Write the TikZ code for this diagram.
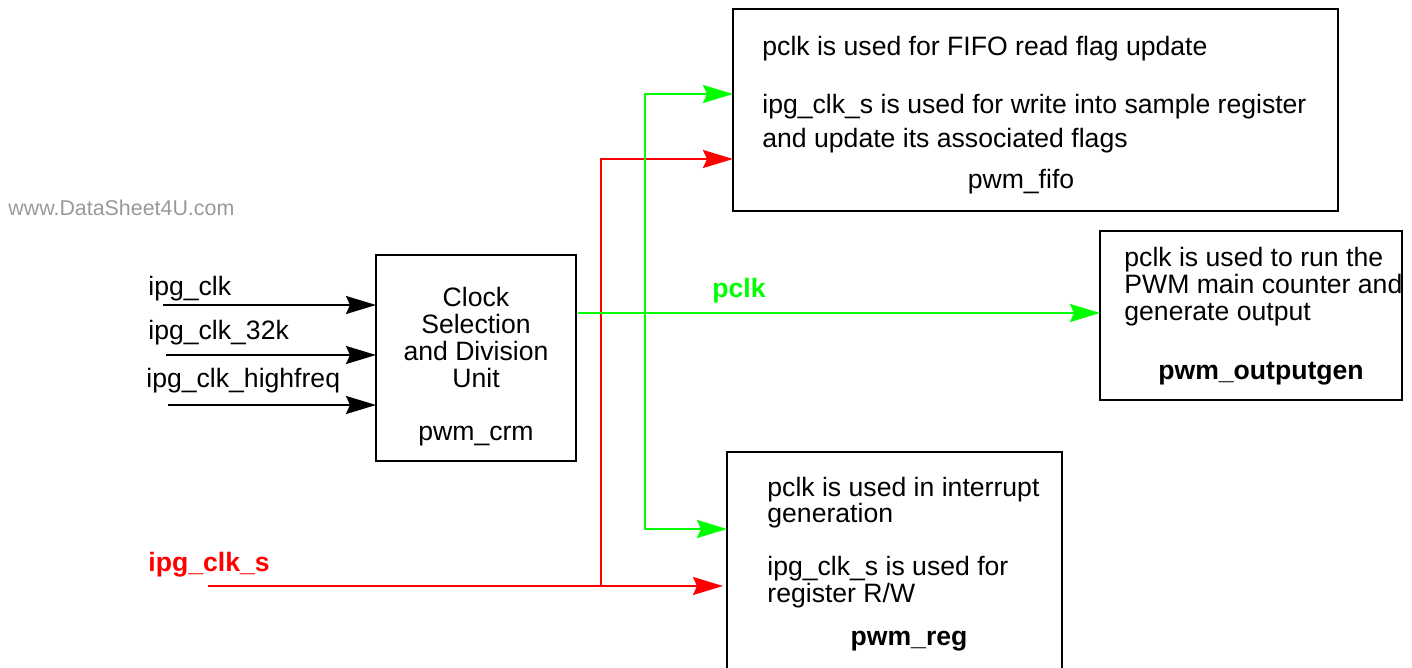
\documentclass[tikz,border=0pt]{standalone}
\usepackage{fontspec}
\setmainfont{Liberation Sans}
\usetikzlibrary{arrows.meta}
\definecolor{ink}{HTML}{000000}
\definecolor{pclkGreen}{HTML}{00FF00}
\definecolor{slowRed}{HTML}{FF0000}
\definecolor{wmGray}{HTML}{999999}
\tikzset{
  base/.style={font=\fontsize{13.3}{13.5}\selectfont, text=ink, inner sep=0pt},
  body/.style={base, anchor=west, align=left},
  bold/.style={base, font=\fontsize{13.3}{13.5}\selectfont\bfseries},
  box/.style={draw=ink, line width=1pt, inner sep=0pt, outer sep=0pt},
  watermark/.style={base, anchor=west, font=\fontsize{10.7}{12}\selectfont, text=wmGray},
  arrow/.style={-{Stealth[length=15pt, width=9pt, inset=2pt]}, line width=1pt, draw=ink},
  pclkarrow/.style={arrow, draw=pclkGreen},
  slowarrow/.style={arrow, draw=slowRed},
}

\begin{document}
\begin{tikzpicture}[x=0.5pt,y=-0.5pt]
  \clip (0,0) rectangle (1412,668);
  \node[watermark] (wm) at (8,208) {www.DataSheet4U.com};

  % blocks
  \node[box, minimum width=100pt, minimum height=103pt] (crm) at (476,358) {};
  \node[box, minimum width=302.5pt, minimum height=101pt] (fifo) at (1035.5,110) {};
  \node[box, minimum width=151pt, minimum height=84.5pt] (outgen) at (1251,315.5) {};
  \node[box, minimum width=167.5pt, minimum height=130pt] (reg) at (894.5,582) {};

  % block texts
  \node[base, align=center] (crmtext) at (476,337.5) {Clock\\Selection\\and Division\\Unit};
  \node[base] (crmname) at (476,436) {pwm\_crm};

  \node[body] (fifoa) at (762,49) {pclk is used for FIFO read flag update};
  \node[body, font=\fontsize{13.3}{17}\selectfont] (fifob) at (762,124) {ipg\_clk\_s is used for write into sample register\\and update its associated flags};
  \node[base] (fifoname) at (1021,182) {pwm\_fifo};

  \node[body] (outtext) at (1124,287) {pclk is used to run the\\PWM main counter and\\generate output};
  \node[bold] (outname) at (1261,374) {pwm\_outputgen};

  \node[body, font=\fontsize{13.3}{12.8}\selectfont] (rega) at (767,502.5) {pclk is used in interrupt\\generation};
  \node[body] (regb) at (767,582.5) {ipg\_clk\_s is used for\\register R/W};
  \node[bold] (regname) at (909,641) {pwm\_reg};

  % clock inputs
  \node[body] (lclk) at (148,289) {ipg\_clk};
  \node[body] (lclk32) at (148,333) {ipg\_clk\_32k};
  \node[body] (lclkhf) at (146,381) {ipg\_clk\_highfreq};
  \coordinate (in1) at (163,305);
  \coordinate (in2) at (166,355);
  \coordinate (in3) at (168,405);
  \draw[arrow] (in1) -- (in1 -| crm.west);
  \draw[arrow] (in2) -- (in2 -| crm.west);
  \draw[arrow] (in3) -- (in3 -| crm.west);

  % ipg_clk_s
  \node[bold, anchor=west, text=slowRed] (lclks) at (148,565) {ipg\_clk\_s};
  \coordinate (rsrc) at (208,586);
  \coordinate (rx) at (601,586);
  \draw[slowarrow, shorten >=2pt] (rsrc) -- (rsrc -| reg.west);
  \draw[slowarrow] (rx) |- (fifo.west |- 0,159);

  % pclk
  \node[bold, anchor=west, text=pclkGreen] (lpclk) at (712,291) {pclk};
  \coordinate (gsrc) at (578,313);
  \coordinate (gx) at (645,313);
  \draw[pclkarrow] (gsrc) -- (gsrc -| outgen.west);
  \draw[pclkarrow] (gx) |- (fifo.west |- 0,94);
  \draw[pclkarrow] (gx) |- (reg.west |- 0,529);
\end{tikzpicture}
\end{document}
